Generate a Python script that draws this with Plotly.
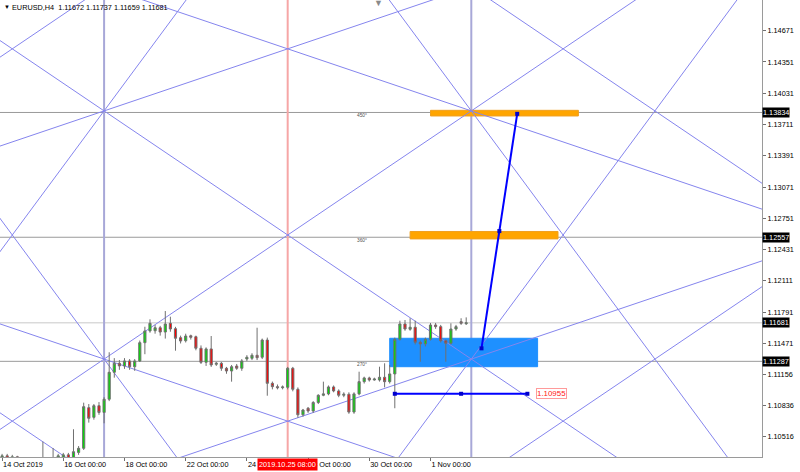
import plotly.graph_objects as go

FONT = "Liberation Sans, Arial, sans-serif"
FS = 7.3

# ---------------- data ----------------
bar_index = list(range(92))
open_ = [1.1025, 1.1032, 1.1026, 1.1031, 1.1022, 1.1015, 1.1006, 1.0998, 1.1015, 1.1028,
         1.1022, 1.1026, 1.1029, 1.1033, 1.1029, 1.10355, 1.10397, 1.10813, 1.10714, 1.10833,
         1.10764, 1.10899, 1.11175, 1.11267, 1.11240, 1.11291, 1.11232, 1.11291, 1.11478, 1.11598,
         1.11600, 1.11631, 1.11587, 1.11676, 1.11621, 1.11529, 1.11498, 1.11549, 1.11539, 1.11421,
         1.11277, 1.11414, 1.11257, 1.11267, 1.11216, 1.11188, 1.11239, 1.11216, 1.11311, 1.11318,
         1.11349, 1.11329, 1.11505, 1.11062, 1.11028, 1.11017, 1.11021, 1.11216, 1.11001, 1.10740,
         1.10807, 1.10779, 1.10866, 1.10940, 1.10954, 1.11025, 1.10984, 1.10940, 1.10950, 1.10768,
         1.10954, 1.11079, 1.11117, 1.11096, 1.11096, 1.11124, 1.11079, 1.11158, 1.11513, 1.11669,
         1.11615, 1.11636, 1.11482, 1.11465, 1.11513, 1.11659, 1.11642, 1.11498, 1.11472, 1.11618,
         1.11693, 1.11672]
high = [1.1034, 1.1034, 1.1033, 1.1032, 1.1030, 1.1022, 1.1012, 1.1020, 1.10465, 1.1030,
        1.1040, 1.1034, 1.1035, 1.1035, 1.10592, 1.1042, 1.10864, 1.10850, 1.1085, 1.1087,
        1.1092, 1.1138, 1.1132, 1.1130, 1.1132, 1.1131, 1.1131, 1.1150, 1.11641, 1.11717,
        1.1166, 1.1165, 1.11802, 1.11744, 1.1164, 1.1155, 1.1157, 1.1156, 1.1155, 1.1145,
        1.1143, 1.11546, 1.1128, 1.1128, 1.1123, 1.1125, 1.1126, 1.1131, 1.1135, 1.1137,
        1.11631, 1.1152, 1.1153, 1.1108, 1.1105, 1.1104, 1.1123, 1.1123, 1.1102, 1.1080,
        1.1082, 1.1088, 1.1095, 1.11079, 1.1104, 1.1104, 1.1100, 1.1097, 1.1097, 1.1097,
        1.11181, 1.1113, 1.1113, 1.1112, 1.11232, 1.11267, 1.11250, 1.1153, 1.11703, 1.11710,
        1.11728, 1.11703, 1.1150, 1.1153, 1.1168, 1.1168, 1.1166, 1.1151, 1.11676, 1.1166,
        1.11728, 1.11737]
low = [1.1018, 1.1020, 1.1019, 1.1012, 1.1010, 1.1001, 1.0993, 1.0994, 1.1010, 1.1012,
       1.1016, 1.1020, 1.1024, 1.1022, 1.1025, 1.1033, 1.1038, 1.1066, 1.1069, 1.1074,
       1.10653, 1.1088, 1.1112, 1.1120, 1.1121, 1.1120, 1.1119, 1.1128, 1.1136, 1.1158,
       1.1157, 1.1155, 1.1152, 1.1159, 1.11396, 1.1147, 1.1148, 1.1151, 1.1140, 1.1126,
       1.1124, 1.1123, 1.1124, 1.1119, 1.1116, 1.11079, 1.1120, 1.1119, 1.1129, 1.1130,
       1.1130, 1.1131, 1.10935, 1.1100, 1.1100, 1.1100, 1.1100, 1.1098, 1.1071, 1.1072,
       1.1076, 1.1076, 1.1085, 1.1093, 1.1094, 1.1097, 1.1092, 1.1092, 1.1075, 1.1075,
       1.1094, 1.1106, 1.1108, 1.1109, 1.1108, 1.11021, 1.1106, 1.10807, 1.1150, 1.1160,
       1.1160, 1.1146, 1.11283, 1.1144, 1.1150, 1.1162, 1.1148, 1.11283, 1.1146, 1.1160,
       1.1166, 1.11659]
close = [1.1032, 1.1026, 1.1031, 1.1022, 1.1015, 1.1006, 1.0998, 1.1015, 1.1028, 1.1022,
         1.1026, 1.1032, 1.1033, 1.1029, 1.10362, 1.10397, 1.10823, 1.10704, 1.10833, 1.10764,
         1.10899, 1.11175, 1.11267, 1.11240, 1.11291, 1.11232, 1.11291, 1.11478, 1.11598, 1.11676,
         1.11631, 1.11587, 1.11669, 1.11618, 1.11523, 1.11495, 1.11546, 1.11533, 1.11421, 1.11277,
         1.11414, 1.11250, 1.11267, 1.11216, 1.11188, 1.11232, 1.11216, 1.11291, 1.11329, 1.11349,
         1.11324, 1.11505, 1.11062, 1.11028, 1.11017, 1.11025, 1.11216, 1.11001, 1.10740, 1.10789,
         1.10779, 1.10866, 1.10940, 1.10954, 1.11025, 1.10984, 1.10940, 1.10950, 1.10768, 1.10954,
         1.11079, 1.11117, 1.11096, 1.11106, 1.11124, 1.11079, 1.11158, 1.11513, 1.11669, 1.11618,
         1.11636, 1.11482, 1.11465, 1.11513, 1.11659, 1.11642, 1.11498, 1.11472, 1.11618, 1.11642,
         1.11676, 1.11681]

title_text = "EURUSD,H4  1.11672 1.11737 1.11659 1.11681"

time_tick_bars = [0, 12, 24, 36, 48, 60, 72, 84]
time_tick_text = ["14 Oct 2019", "16 Oct 00:00", "18 Oct 00:00", "22 Oct 00:00",
                  "24 Oct 00:00", "28 Oct 00:00", "30 Oct 00:00", "1 Nov 00:00"]
price_ticks = [1.14671, 1.14351, 1.14031, 1.13711, 1.13391, 1.13071, 1.12751,
               1.12431, 1.12111, 1.11791, 1.11471, 1.11156, 1.10836, 1.10516]

x_range = [-0.41, 149.0]
y_range = [1.10308, 1.14985]

hline_prices = [1.13834, 1.12557, 1.11287]
hline_labels = ["450°", "360°", "270°"]
hline_label_bar = 71.8
bid_price = 1.11681
marked_prices = [1.13834, 1.12557, 1.11681, 1.11287]

# Gann grid: lines through anchors with slope ratio * price_step per period
gann_period_bars = 36
gann_price_step = 0.0127
gann_anchor_bar = [-16, 20, 20, 20, 20, 20, 20, -16, 92, 92, 128, 128, 92, 128]
gann_anchor_price = [1.1385, 1.1385, 1.1385, 1.1385, 1.1131, 1.1131, 1.1131,
                     1.1131, 1.1385, 1.1385, 1.1385, 1.1385, 1.1131, 1.1131]
gann_ratio = [1, -1, 0.5, 2, -2, -0.5, 1, -1, -0.5, -2, -1, 2, 0.5, 1]
gann_vline_bars = [20, 92]

cursor_bar = 56
cursor_label = "2019.10.25 08:00"
shift_marker_bar = 73.8

blue_rect_bars = [76, 105]
blue_rect_prices = [1.11232, 1.11523]
orange_rect_bars = [[84, 113], [80, 109]]
orange_rect_prices = [[1.13798, 1.13856], [1.12540, 1.12616]]

trend_bars = [94, 101]
trend_prices = [1.1142, 1.1382]
level_bars = [77, 103]
level_price = 1.10955

# ---------------- figure ----------------
fig = go.Figure()
shapes = []

shapes.append(dict(type="rect", xref="x", yref="y", layer="below",
                   x0=blue_rect_bars[0], x1=blue_rect_bars[1],
                   y0=blue_rect_prices[0], y1=blue_rect_prices[1],
                   fillcolor="#1E90FF", line=dict(color="#1E90FF", width=1)))

for p in hline_prices:
    shapes.append(dict(type="line", xref="paper", yref="y", layer="below",
                       x0=0, x1=1, y0=p, y1=p, line=dict(color="#9a9a9a", width=1)))
shapes.append(dict(type="line", xref="paper", yref="y", layer="below",
                   x0=0, x1=1, y0=bid_price, y1=bid_price, line=dict(color="#c8c8c8", width=1)))

for rb, rp in zip(orange_rect_bars, orange_rect_prices):
    shapes.append(dict(type="rect", xref="x", yref="y", layer="below",
                       x0=rb[0], x1=rb[1], y0=rp[0], y1=rp[1],
                       fillcolor="#FFA500", line=dict(color="#F0A020", width=1)))

xa, xb = -20, 170
for ab, ap, r in zip(gann_anchor_bar, gann_anchor_price, gann_ratio):
    k = r * gann_price_step / gann_period_bars
    shapes.append(dict(type="line", xref="x", yref="y", layer="below",
                       x0=xa, x1=xb, y0=ap + k * (xa - ab), y1=ap + k * (xb - ab),
                       line=dict(color="#8585ee", width=1)))
for vb in gann_vline_bars:
    shapes.append(dict(type="line", xref="x", yref="paper", layer="below",
                       x0=vb, x1=vb, y0=0, y1=1, line=dict(color="#a8a8d8", width=2)))
shapes.append(dict(type="line", xref="x", yref="paper", layer="below",
                   x0=cursor_bar, x1=cursor_bar, y0=0, y1=1,
                   line=dict(color="#f6a6a6", width=2)))

fig.add_trace(go.Candlestick(
    x=bar_index, open=open_, high=high, low=low, close=close,
    increasing=dict(fillcolor="#00e000", line=dict(color="#707070", width=1)),
    decreasing=dict(fillcolor="#ff0000", line=dict(color="#707070", width=1)),
    whiskerwidth=0, hoverinfo="skip", showlegend=False))

fig.add_trace(go.Scatter(
    x=[trend_bars[0], (trend_bars[0] + trend_bars[1]) / 2, trend_bars[1]],
    y=[trend_prices[0], (trend_prices[0] + trend_prices[1]) / 2, trend_prices[1]],
    mode="lines+markers", line=dict(color="#0000ff", width=2),
    marker=dict(symbol="square", size=4, color="#0000cc"), showlegend=False, hoverinfo="skip"))
fig.add_trace(go.Scatter(
    x=[level_bars[0], (level_bars[0] + level_bars[1]) / 2, level_bars[1]],
    y=[level_price] * 3,
    mode="lines+markers", line=dict(color="#0000ff", width=2),
    marker=dict(symbol="square", size=4, color="#0000cc"), showlegend=False, hoverinfo="skip"))

annotations = []
annotations.append(dict(xref="paper", yref="paper", x=0.0, y=1.0, xanchor="left", yanchor="top",
                        text="▼", showarrow=False, xshift=2, yshift=-2,
                        font=dict(family=FONT, size=6, color="black")))
annotations.append(dict(xref="paper", yref="paper", x=0.0, y=1.0, xanchor="left", yanchor="top",
                        text=title_text, showarrow=False, xshift=10, yshift=-1,
                        font=dict(family=FONT, size=FS, color="black")))
annotations.append(dict(xref="x", yref="paper", x=shift_marker_bar, y=1.0, xanchor="center",
                        yanchor="top", text="▼", showarrow=False, yshift=4,
                        font=dict(family=FONT, size=9, color="#8a8a8a")))
for p, t in zip(hline_prices, hline_labels):
    annotations.append(dict(xref="x", yref="y", x=hline_label_bar, y=p, xanchor="right",
                            yanchor="top", text=t, showarrow=False, borderpad=0,
                            font=dict(family=FONT, size=4.8, color="#505050")))
for p in marked_prices:
    annotations.append(dict(xref="paper", yref="y", x=1.0, y=p, xanchor="left", yanchor="middle",
                            text=f"{p:.5f}", showarrow=False, bgcolor="black", borderpad=0,
                            font=dict(family=FONT, size=FS, color="white")))
annotations.append(dict(xref="x", yref="paper", x=cursor_bar, y=0, xanchor="center", yanchor="top",
                        text=cursor_label, showarrow=False, bgcolor="#ff0000", borderpad=1,
                        yshift=-1, font=dict(family=FONT, size=FS, color="white")))
annotations.append(dict(xref="x", yref="y", x=level_bars[1] + 1.6, y=level_price,
                        xanchor="left", yanchor="middle", text=f"{level_price:.5f}",
                        showarrow=False, bgcolor="white", bordercolor="#ff9a9a", borderwidth=1,
                        borderpad=0, font=dict(family=FONT, size=FS + 0.6, color="#ff2020")))

fig.update_layout(
    width=800, height=472, autosize=False,
    margin=dict(l=0, r=38, t=0, b=15, autoexpand=False),
    paper_bgcolor="white", plot_bgcolor="white",
    showlegend=False, boxgap=0.4,
    shapes=shapes, annotations=annotations,
    font=dict(family=FONT, size=FS, color="black"),
    xaxis=dict(range=x_range, showgrid=False, zeroline=False, showline=True, mirror=True,
               linecolor="#9a9a9a", linewidth=1, tickvals=time_tick_bars, ticktext=time_tick_text,
               ticks="outside", ticklen=3, tickcolor="#707070", automargin=False,
               ticklabelposition="outside right", rangeslider=dict(visible=False),
               tickfont=dict(family=FONT, size=FS, color="black")),
    yaxis=dict(range=y_range, side="right", showgrid=False, zeroline=False, showline=True,
               mirror=True, linecolor="#9a9a9a", linewidth=1, tickvals=price_ticks,
               ticktext=[f"{v:.5f}" for v in price_ticks], ticks="outside", ticklen=3,
               automargin=False,
               tickcolor="#707070", tickfont=dict(family=FONT, size=FS, color="black")),
)

fig.write_html("out.html", config={"displayModeBar": False},
               post_script="document.body.style.margin='0px';")
